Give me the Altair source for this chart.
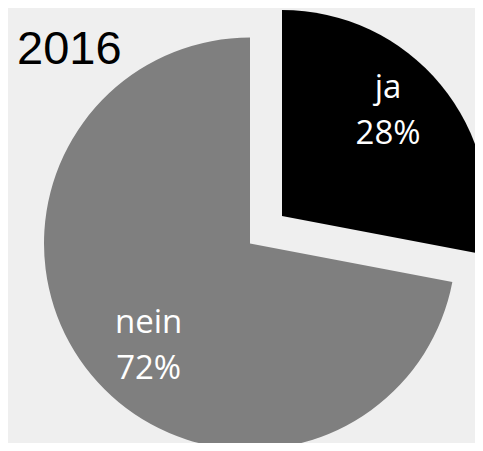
import altair as alt
import pandas as pd

categories = ["ja", "nein"]
values = [28, 72]
labels = ["ja\n28%", "nein\n72%"]
colors = ["#000000", "#7f7f7f"]
title_text = "2016"

df = pd.DataFrame({"cat": categories, "val": values, "label": labels, "ord": [0, 1]})

base = alt.Chart(df).encode(
    theta=alt.Theta("val:Q", stack=True),
    order=alt.Order("ord:Q"),
)

def arc_layer(cat, cx, cy):
    return base.mark_arc(outerRadius=206).encode(
        x=alt.value(cx), y=alt.value(cy),
        color=alt.Color("cat:N", scale=alt.Scale(domain=categories, range=colors), legend=None),
        opacity=alt.condition(f"datum.cat == '{cat}'", alt.value(1), alt.value(0)),
    )

def text_layer(cat, cx, cy, r, dx, dy):
    return base.mark_text(
        radius=r, font="Open Sans", fontSize=33, color="white", lineBreak="\n",
        lineHeight=46, align="center", baseline="middle", dx=dx, dy=dy,
    ).encode(
        x=alt.value(cx), y=alt.value(cy),
        text="label:N",
        opacity=alt.condition(f"datum.cat == '{cat}'", alt.value(1), alt.value(0)),
    )

gray_arc = arc_layer("nein", 242, 235.5)
black_arc = arc_layer("ja", 274, 208)
gray_txt = text_layer("nein", 242, 235.5, 151, 15, -16.5)
black_txt = text_layer("ja", 274, 208, 139, -1, -39)

title = alt.Chart(pd.DataFrame({"t": [title_text]})).mark_text(
    font="Liberation Sans", fontSize=47, align="left", baseline="alphabetic", color="black"
).encode(x=alt.value(9), y=alt.value(56), text="t:N")

chart = alt.layer(gray_arc, black_arc, gray_txt, black_txt, title).properties(
    width=467, height=435, padding=0, autosize="none", background="#efefef"
).configure_view(stroke=None)

chart.save("out.html", embed_options={"renderer": "svg", "actions": False})
